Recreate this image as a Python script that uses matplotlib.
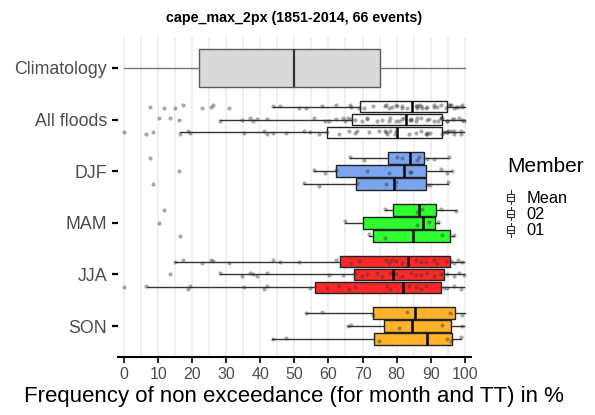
import numpy as np
import matplotlib
matplotlib.use("Agg")
import matplotlib.pyplot as plt
from matplotlib.legend_handler import HandlerBase
from matplotlib.patches import Rectangle
from matplotlib.lines import Line2D

plt.rcParams["font.family"] = ["Liberation Sans", "DejaVu Sans"]

# categories from bottom to top
categories = ["SON", "JJA", "MAM", "DJF", "All floods", "Climatology"]
members = ["01", "02", "Mean"]
season_colors = {"DJF": "#7BA5EF", "MAM": "#2EFF2E", "JJA": "#FF2828", "SON": "#FFB22A",
                 "All floods": "white"}

# climatology box: whislo, q1, median, q3, whishi
clim_stats = [0.0, 22.0, 50.0, 75.0, 100.0]

# box statistics, rows = All floods, DJF, MAM, JJA, SON ; columns = 01, 02, Mean
box_rows = ["All floods", "DJF", "MAM", "JJA", "SON"]
whisker_lo = [[16.3, 28.2, 43.6], [52.7, 55.8, 66.3], [71.9, 64.8, 76.6],
              [6.7, 28.2, 14.8], [43.4, 65.7, 53.5]]
q1 = [[59.6, 66.9, 69.2], [68.1, 62.3, 77.5], [73.0, 70.1, 79.0],
      [56.0, 67.5, 63.3], [73.3, 76.3, 73.1]]
median = [[80.2, 82.7, 84.5], [79.3, 82.2, 83.9], [84.9, 87.8, 86.7],
          [81.8, 78.9, 83.4], [89.0, 84.5, 85.3]]
q3 = [[93.4, 93.2, 94.7], [88.6, 88.5, 88.0], [95.7, 91.2, 91.6],
      [93.1, 93.9, 95.6], [96.4, 95.9, 97.2]]
whisker_hi = [[99.8, 100.0, 100.0], [95.1, 96.1, 95.2], [96.9, 92.5, 97.4],
              [99.8, 99.9, 99.7], [98.9, 99.7, 100.0]]

# event values (frequency of non exceedance in %)
djf_01 = [8.4, 52.7, 57.1, 68.4, 76.8, 79.4, 79.7, 89.0, 89.8, 95.1]
djf_02 = [16.2, 55.9, 59.0, 62.1, 71.2, 77.7, 82.1, 83.8, 84.1, 92.9, 94.9, 96.2]
djf_mean = [7.5, 66.4, 70.4, 80.2, 81.7, 86.1, 86.6, 89.0, 91.0, 95.4]
mam_01 = [16.4, 72.0, 76.6, 93.4, 96.9]
mam_02 = [10.1, 64.8, 85.9, 89.5, 92.3]
mam_mean = [11.6, 76.7, 86.1, 87.4, 92.9, 97.4]
jja_01 = [0.0, 6.5, 18.9, 19.4, 35.1, 41.0, 42.0, 54.7, 59.6, 63.0, 66.0, 67.9,
          77.3, 78.2, 83.6, 85.6, 87.1, 88.5, 93.9, 94.9, 96.9, 98.8]
jja_02 = [13.5, 28.2, 34.6, 36.9, 37.8, 39.0, 42.0, 60.1, 64.3, 67.9, 69.9, 71.4,
          74.3, 75.8, 78.2, 79.7, 81.7, 84.1, 85.6, 87.1, 89.0, 91.0, 92.9, 94.9,
          96.9, 98.3, 99.8]
jja_mean = [15.0, 17.3, 23.0, 25.5, 26.0, 30.7, 43.6, 45.9, 51.3, 62.1, 66.5, 68.9,
            76.8, 77.7, 78.7, 79.7, 81.7, 85.6, 87.1, 88.5, 91.0, 92.0, 94.4, 95.9,
            96.9, 97.9, 99.3]
son_01 = [43.6, 47.6, 74.8, 89.0, 94.7, 96.1, 98.8]
son_02 = [65.7, 66.7, 80.7, 93.4, 99.3]
son_mean = [53.4, 58.1, 73.1, 83.1, 95.6, 99.3]

points = {
    "DJF": [djf_01, djf_02, djf_mean],
    "MAM": [mam_01, mam_02, mam_mean],
    "JJA": [jja_01, jja_02, jja_mean],
    "SON": [son_01, son_02, son_mean],
}
points["All floods"] = [sum((points[s][m] for s in ["DJF", "MAM", "JJA", "SON"]), [])
                        for m in range(3)]

ypos = {c: i + 1 for i, c in enumerate(categories)}
offsets = [-0.25, 0.0, 0.25]

fig = plt.figure(figsize=(5.95, 4.15), dpi=100)
ax = fig.add_axes([0.1983, 0.1398, 0.593, 0.771])

# climatology box
ax.bxp([dict(whislo=clim_stats[0], q1=clim_stats[1], med=clim_stats[2],
             q3=clim_stats[3], whishi=clim_stats[4])],
       positions=[ypos["Climatology"]], widths=[0.75], orientation="horizontal",
       patch_artist=True, showfliers=False, showcaps=False,
       boxprops=dict(facecolor="#D9D9D9", edgecolor="#595959", linewidth=1.0),
       whiskerprops=dict(color="#777777", linewidth=1.0),
       medianprops=dict(color="#333333", linewidth=1.6))

for r, cat in enumerate(box_rows):
    stats = []
    pos = []
    for m in range(3):
        stats.append(dict(whislo=whisker_lo[r][m], q1=q1[r][m], med=median[r][m],
                          q3=q3[r][m], whishi=whisker_hi[r][m]))
        pos.append(ypos[cat] + offsets[m])
    ax.bxp(stats, positions=pos, widths=0.225, orientation="horizontal",
           patch_artist=True, showfliers=False, showcaps=False,
           boxprops=dict(facecolor=season_colors[cat], edgecolor="#222222", linewidth=1.0),
           whiskerprops=dict(color="#333333", linewidth=1.0),
           medianprops=dict(color="black", linewidth=1.8))
    for m in range(3):
        vals = np.array(points[cat][m])
        jit = 0.035 * np.sin(np.arange(len(vals)) * 2.3)
        ax.scatter(vals, ypos[cat] + offsets[m] + jit, s=9, color="#333333",
                   alpha=0.42, linewidths=0, zorder=5)

ax.set_xlim(-1.8, 101.8)
ax.set_ylim(0.4, 6.6)
ax.set_xticks(np.arange(0, 101, 10))
ax.set_xticks(np.arange(5, 100, 10), minor=True)
ax.set_yticks([ypos[c] for c in categories])
ax.set_yticklabels(categories)
ax.grid(axis="x", which="both", color="#EBEBEB", linewidth=1.1)
ax.set_axisbelow(True)
for s in ["top", "right", "left"]:
    ax.spines[s].set_visible(False)
ax.spines["bottom"].set_linewidth(1.5)
ax.tick_params(axis="x", which="major", length=4, width=1.2, color="black",
               labelsize=11.5, labelcolor="#4D4D4D", pad=3)
ax.tick_params(axis="x", which="minor", length=0)
ax.tick_params(axis="y", length=4, width=1.6, color="black",
               labelsize=12.8, labelcolor="#4D4D4D", pad=4)
ax.set_xlabel("Frequency of non exceedance (for month and TT) in %", fontsize=16,
              labelpad=3)
ax.set_title("cape_max_2px (1851-2014, 66 events)", fontsize=10.3, fontweight="bold", pad=11)


class BoxKey(HandlerBase):
    def create_artists(self, legend, orig_handle, xdescent, ydescent, width, height,
                       fontsize, trans):
        x0, y0 = -xdescent, -ydescent
        cx = x0 + width / 2
        line = Line2D([cx, cx], [y0, y0 + height], color="#333333", lw=0.8, transform=trans)
        box = Rectangle((x0, y0 + height * 0.25), width, height * 0.5, facecolor="white",
                        edgecolor="#333333", lw=0.8, transform=trans)
        med = Line2D([x0, x0 + width], [y0 + height / 2] * 2, color="#333333", lw=0.8,
                     transform=trans)
        return [line, box, med]


fig.text(0.853, 0.5976, "Member", fontsize=15, ha="left", va="center")
handles = [Rectangle((0, 0), 1, 1) for _ in members]
leg = fig.legend(handles, members[::-1], handler_map={Rectangle: BoxKey()},
                 loc="upper left", bbox_to_anchor=(0.852, 0.541),
                 frameon=False, fontsize=11.8,
                 handlelength=0.45, handleheight=0.9, handletextpad=0.75, labelspacing=0.05,
                 borderaxespad=0, borderpad=0)

fig.savefig("out.png", dpi=100)
